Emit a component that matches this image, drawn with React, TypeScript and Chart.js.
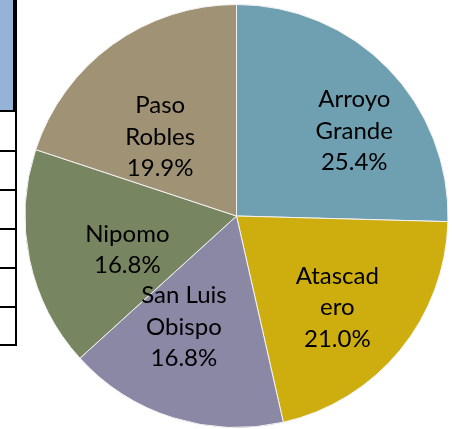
import React, { useEffect, useRef } from "react";
import { Chart, registerables } from "chart.js";

Chart.register(...registerables);

const categories = ["Arroyo Grande", "Atascadero", "San Luis Obispo", "Nipomo", "Paso Robles"];
const shares = [25.4, 21.0, 16.8, 16.8, 19.9];
const labelLines = [
  ["Arroyo", "Grande", "25.4%"],
  ["Atascad", "ero", "21.0%"],
  ["San Luis", "Obispo", "16.8%"],
  ["Nipomo", "16.8%"],
  ["Paso", "Robles", "19.9%"],
];
const sliceColors = ["#6FA0B1", "#CDAE0E", "#8B88A6", "#778561", "#A09274"];

// label placement relative to each slice: angle shift (deg) from mid-angle, radius fraction
const labelAngleShift = [8.5, 2.8, 7.9, -5.1, -8.1];
const labelRadiusFrac = [0.686, 0.643, 0.58, 0.54, 0.52];

const tableRuleTops = [110, 150, 189, 228, 267, 306, 344];

const labelPlugin = {
  id: "sliceLabels",
  afterDatasetsDraw(chart: any) {
    const meta = chart.getDatasetMeta(0);
    const ctx = chart.ctx;
    ctx.save();
    ctx.font = "24px Lato";
    ctx.fillStyle = "#000";
    ctx.textAlign = "center";
    ctx.textBaseline = "middle";
    const lh = 31.5;
    meta.data.forEach((arc: any, i: number) => {
      const p = arc.getProps(["x", "y", "startAngle", "endAngle", "outerRadius"], true);
      const mid = (p.startAngle + p.endAngle) / 2 + (labelAngleShift[i] * Math.PI) / 180;
      const r = p.outerRadius * labelRadiusFrac[i];
      const cx = p.x + r * Math.cos(mid);
      const cy = p.y + r * Math.sin(mid);
      const lines = labelLines[i];
      const y0 = cy - ((lines.length - 1) * lh) / 2;
      lines.forEach((t, k) => ctx.fillText(t, cx, y0 + k * lh));
    });
    ctx.restore();
  },
};

export default function App() {
  const ref = useRef<HTMLCanvasElement>(null);
  useEffect(() => {
    const chart = new Chart(ref.current!, {
      type: "pie",
      data: {
        labels: categories,
        datasets: [
          {
            data: shares,
            backgroundColor: sliceColors,
            borderColor: "#F2F2F2",
            borderWidth: 1,
          },
        ],
      },
      options: {
        responsive: false,
        animation: false,
        layout: { padding: { left: 24.5, right: 3.5, top: 4, bottom: 1 } },
        plugins: { legend: { display: false }, tooltip: { enabled: false } },
      },
      plugins: [labelPlugin],
    });
    return () => chart.destroy();
  }, []);
  return (
    <div style={{ position: "fixed", left: 0, top: 0, width: 452, height: 429, background: "#fff" }}>
      <div style={{ position: "absolute", left: 0, top: 0, width: 13, height: 110, background: "#95B3D7" }} />
      <div style={{ position: "absolute", left: 13, top: 0, width: 4, height: 110, background: "#000" }} />
      <div style={{ position: "absolute", left: 15, top: 110, width: 2, height: 236, background: "#000" }} />
      {tableRuleTops.map((t) => (
        <div key={t} style={{ position: "absolute", left: 0, top: t, width: 17, height: 2, background: "#000" }} />
      ))}
      <canvas ref={ref} width={452} height={429} style={{ position: "absolute", left: 0, top: 0 }} />
    </div>
  );
}
